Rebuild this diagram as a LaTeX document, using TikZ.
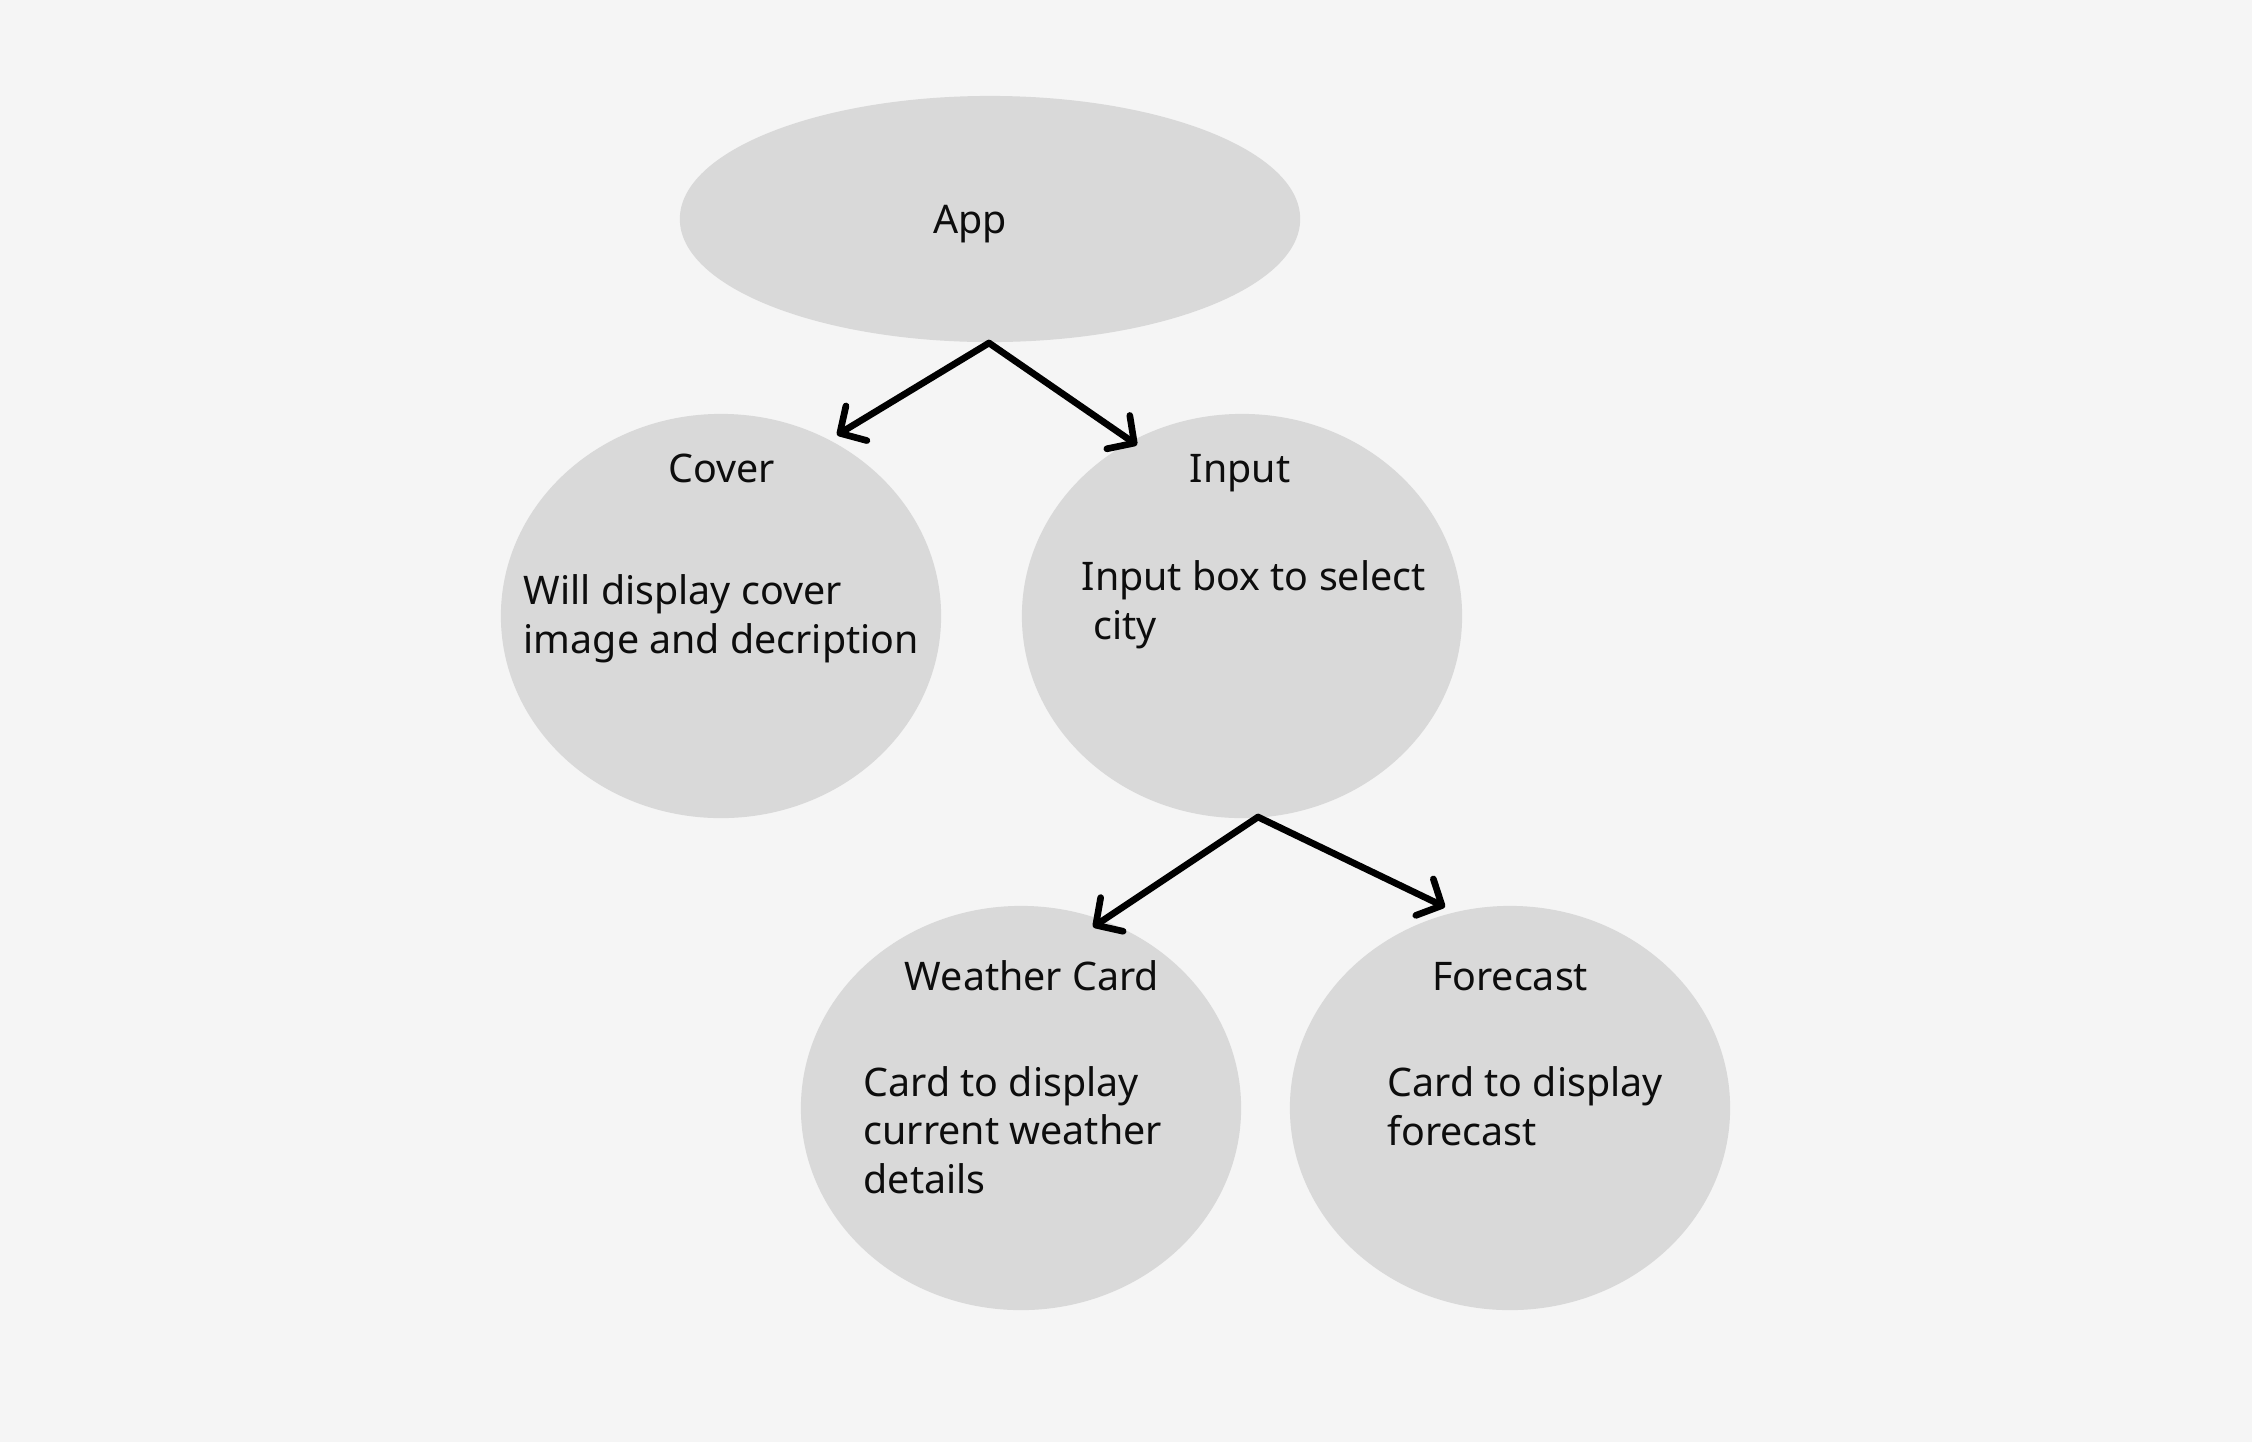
\documentclass[tikz,border=0pt]{standalone}
\usepackage{fontspec}
\setmainfont{Noto Sans}
\usetikzlibrary{shapes.geometric,arrows.meta}
\definecolor{bgc}{HTML}{F5F5F5}
\definecolor{blob}{HTML}{D9D9D9}
\definecolor{ink}{HTML}{0D0D0D}
\begin{document}
\begin{tikzpicture}[x=0.01cm,y=-0.01cm,
  blobshape/.style={ellipse,fill=blob,draw=none,inner sep=0pt,minimum width=4.4cm,minimum height=4.04cm},
  txt/.style={inner sep=0pt,text=ink,font=\fontsize{11.2pt}{13.66pt}\selectfont,align=left,anchor=base west},
  ttl/.style={inner sep=0pt,text=ink,font=\fontsize{11.2pt}{13.66pt}\selectfont,anchor=base},
  conn/.style={draw=black,line width=1.9pt,line cap=round,-{Straight Barb[length=5.5pt,width=11.5pt,line cap=round,line join=round]}}]
\fill[bgc] (0,0) rectangle (2252,1442);
\useasboundingbox (0,0) rectangle (2252,1442);
% shapes
\node[blobshape,minimum width=6.2cm,minimum height=2.46cm] (app) at (990,219) {};
\node[blobshape] (cover) at (721,616) {};
\node[blobshape] (input) at (1242,616) {};
\node[blobshape] (weather) at (1021,1108) {};
\node[blobshape] (forecast) at (1510,1108) {};
% texts (multi-line nodes anchored at the baseline of their last line)
\node[ttl] (appT) at (970,233) {App};
\node[ttl] (coverT) at (722,482) {Cover};
\node[txt] (coverD) at (523,653) {Will display cover\\image and decription};
\node[ttl] (inputT) at (1240,482) {Input};
\node[txt] (inputD) at (1081,639) {Input box to select\\\hspace*{0.3em}city};
\node[ttl] (weatherT) at (1032,990) {Weather Card};
\node[txt] (weatherD) at (863,1193) {Card to display\\current weather\\details};
\node[ttl] (forecastT) at (1510,990) {Forecast};
\node[txt] (forecastD) at (1387,1145) {Card to display\\forecast};
% connector ends
\coordinate (appOut) at (989,343);
\coordinate (coverIn) at (837,435);
\coordinate (inputIn) at (1137,445);
\coordinate (inputOut) at (1258,817);
\coordinate (weatherIn) at (1093,927);
\coordinate (forecastIn) at (1445,907);
\draw[conn] (appOut) -- (coverIn);
\draw[conn] (appOut) -- (inputIn);
\draw[conn] (inputOut) -- (weatherIn);
\draw[conn] (inputOut) -- (forecastIn);
\end{tikzpicture}
\end{document}
